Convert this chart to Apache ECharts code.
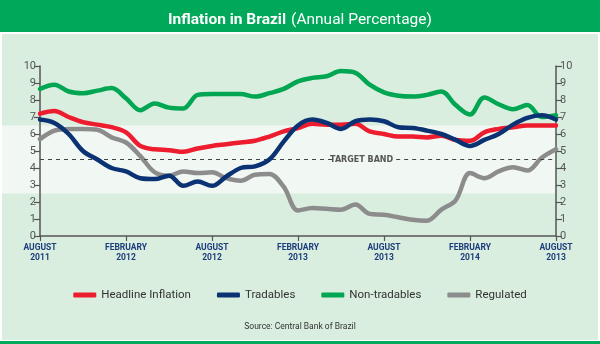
<!DOCTYPE html>
<html>
<head>
<meta charset="utf-8">
<script src="https://cdn.jsdelivr.net/npm/echarts@6/dist/echarts.min.js"></script>
<style>
  html, body { margin: 0; padding: 0; background: #ffffff; }
  #chart { width: 600px; height: 344px; }
</style>
</head>
<body>
<div id="chart"></div>
<script>
// Monthly annual inflation rates, August 2011 through August 2014 (37 months)
const tickLabels = ['AUGUST\n2011', 'FEBRUARY\n2012', 'AUGUST\n2012', 'FEBRUARY\n2013', 'AUGUST\n2013', 'FEBRUARY\n2014', 'AUGUST\n2013'];
const yTicks = [0, 1, 2, 3, 4, 5, 6, 7, 8, 9, 10];

const headline = [7.2, 7.35, 7.0, 6.7, 6.55, 6.4, 6.1, 5.3, 5.1, 5.05, 4.95, 5.15, 5.3,
  5.4, 5.5, 5.6, 5.85, 6.15, 6.35, 6.6, 6.55, 6.55, 6.6, 6.15, 6.0, 5.85, 5.85,
  5.8, 5.9, 5.65, 5.6, 6.1, 6.3, 6.4, 6.5, 6.5, 6.5];
const tradables = [6.85, 6.65, 6.0, 5.0, 4.5, 4.0, 3.8, 3.4, 3.35, 3.55, 2.95, 3.2, 2.95,
  3.5, 4.0, 4.1, 4.5, 5.55, 6.5, 6.85, 6.65, 6.3, 6.75, 6.85, 6.75, 6.4, 6.35,
  6.2, 6.0, 5.65, 5.3, 5.65, 6.0, 6.55, 6.95, 7.1, 6.85];
const nonTradables = [8.65, 8.9, 8.5, 8.4, 8.55, 8.7, 8.1, 7.4, 7.8, 7.55, 7.5, 8.3, 8.35,
  8.35, 8.35, 8.2, 8.4, 8.65, 9.1, 9.3, 9.4, 9.7, 9.6, 8.9, 8.45, 8.25, 8.2,
  8.3, 8.5, 7.7, 7.15, 8.15, 7.75, 7.45, 7.7, 7.0, 7.1];
const regulated = [5.7, 6.2, 6.3, 6.3, 6.25, 5.8, 5.5, 4.7, 3.75, 3.55, 3.8, 3.7, 3.75,
  3.4, 3.25, 3.6, 3.65, 2.9, 1.5, 1.65, 1.6, 1.55, 1.85, 1.3, 1.25, 1.1, 0.95,
  0.9, 1.55, 2.1, 3.7, 3.4, 3.8, 4.05, 3.85, 4.6, 5.1];

const seriesNames = ['Headline Inflation', 'Tradables', 'Non-tradables', 'Regulated'];
const targetBand = [2.5, 6.5];
const targetCentre = 4.5;
const targetLabel = 'TARGET BAND';
const titleMain = 'Inflation in Brazil';
const titleSub = '(Annual Percentage)';
const sourceText = 'Source: Central Bank of Brazil';

const C = {
  header: '#00a859',
  panel: '#d9eedf',
  band: '#f1f8f3',
  red: '#ed1c2e',
  navy: '#0b3272',
  green: '#00a651',
  gray: '#8c8c8c',
  axis: '#555555',
  tick: '#1c3c7c'
};
const FONT = '"Roboto", sans-serif';
const lastMonth = headline.length - 1;

const toPairs = arr => arr.map((v, i) => [i, v]);

function lineSeries(name, data, color, z) {
  return {
    name, type: 'line', data: toPairs(data), z,
    smooth: 0.35, symbol: 'none', showSymbol: false,
    lineStyle: { width: 4.5, color, cap: 'round', join: 'round' },
    itemStyle: { color },
    emphasis: { disabled: true }
  };
}

function yAxisDef(position) {
  return {
    type: 'value', min: 0, max: 10, interval: 1, position,
    axisLine: { show: true, lineStyle: { color: C.axis, width: 1.5 } },
    axisTick: { show: true, length: 6, lineStyle: { color: C.axis, width: 1.2 } },
    axisLabel: {
      color: C.axis, fontSize: 11, fontFamily: FONT, margin: 4,
      formatter: v => (yTicks.includes(v) ? String(v) : '')
    },
    splitLine: { show: false }
  };
}

const chart = echarts.init(document.getElementById('chart'), null, { renderer: 'canvas' });

const option = {
  backgroundColor: '#ffffff',
  animation: false,
  title: {
    text: '{b|' + titleMain + '} {r|' + titleSub + '}',
    left: 'center', top: 6,
    textStyle: {
      fontWeight: 'normal',
      rich: {
        b: { color: '#ffffff', fontSize: 15.5, fontWeight: 'bold', fontFamily: FONT },
        r: { color: '#ffffff', fontSize: 15.5, fontWeight: 'normal', fontFamily: FONT }
      }
    }
  },
  legend: {
    data: seriesNames, bottom: 38, left: 'center',
    icon: 'roundRect', itemWidth: 23, itemHeight: 5, itemGap: 26,
    textStyle: { color: '#333333', fontSize: 11.5, fontFamily: FONT },
    selectedMode: false
  },
  grid: { left: 40, width: 516, top: 66, height: 170, containLabel: false },
  xAxis: {
    type: 'value', min: 0, max: lastMonth, interval: 6,
    axisLine: { show: true, lineStyle: { color: C.axis, width: 1.5 } },
    axisTick: { show: true, length: 5, lineStyle: { color: C.axis, width: 1.2 } },
    axisLabel: {
      color: C.tick, fontSize: 8.5, fontWeight: 'bold', fontFamily: FONT,
      lineHeight: 10, margin: 7,
      formatter: v => tickLabels[v / 6] || ''
    },
    splitLine: { show: false }
  },
  yAxis: [yAxisDef('left'), yAxisDef('right')],
  series: [
    lineSeries(seriesNames[0], headline, C.red, 5),
    lineSeries(seriesNames[1], tradables, C.navy, 6),
    lineSeries(seriesNames[2], nonTradables, C.green, 4),
    lineSeries(seriesNames[3], regulated, C.gray, 3),
    {
      name: 'target', type: 'line', data: [], z: 2, silent: true,
      markLine: {
        silent: true, symbol: 'none',
        lineStyle: { type: [4, 4], color: '#444444', width: 1.2 },
        data: [
          [{ coord: [0, targetCentre] }, { coord: [20.6, targetCentre] }],
          [{ coord: [24.85, targetCentre],
             label: { show: true, position: 'start', formatter: targetLabel, distance: 3,
                      color: '#555555', fontSize: 8, fontWeight: 'bold', fontFamily: '"DejaVu Sans", sans-serif' } },
           { coord: [lastMonth, targetCentre] }]
        ],
        label: { show: false }
      }
    }
  ]
};

chart.setOption(option);

// Backdrop shapes placed from the axis scales
const yTop = chart.convertToPixel({ yAxisIndex: 0 }, targetBand[1]);
const yBot = chart.convertToPixel({ yAxisIndex: 0 }, targetBand[0]);
const xRight = chart.convertToPixel({ xAxisIndex: 0 }, lastMonth);

chart.setOption({
  graphic: [
    { id: 'panel', type: 'rect', z: -20, silent: true,
      shape: { x: 2, y: 34, width: 596, height: 306 }, style: { fill: C.panel } },
    { id: 'band', type: 'rect', z: -10, silent: true,
      shape: { x: 2, y: yTop, width: xRight - 2, height: yBot - yTop }, style: { fill: C.band } },
    { id: 'header', type: 'rect', z: -10, silent: true,
      shape: { x: 0, y: 0, width: 600, height: 32 }, style: { fill: C.header } },
    { id: 'footer', type: 'rect', z: -10, silent: true,
      shape: { x: 0, y: 341, width: 600, height: 3 }, style: { fill: C.header } },
    { id: 'source', type: 'text', z: 10, silent: true, left: 'center', top: 322,
      style: { text: sourceText, fill: '#333333', fontSize: 8.5, fontFamily: FONT } }
  ]
});
</script>
</body>
</html>
